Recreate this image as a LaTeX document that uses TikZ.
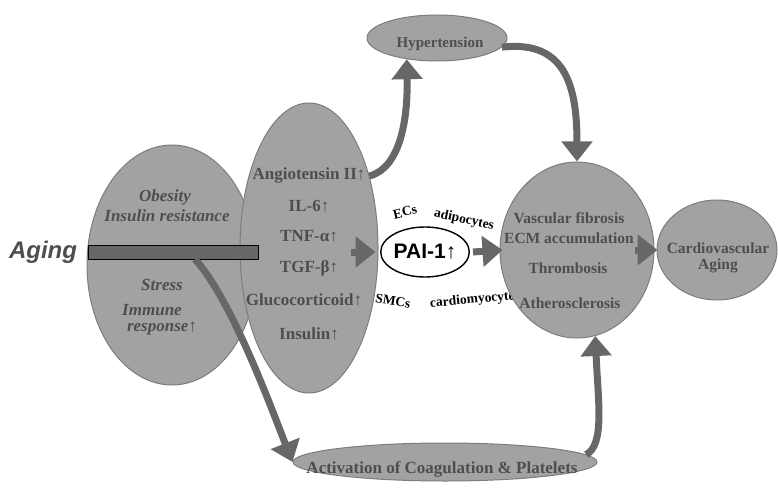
\documentclass[tikz,border=0pt]{standalone}
\usepackage{fontspec}
\setmainfont{Liberation Serif}
\setsansfont{Liberation Sans}
\usetikzlibrary{shapes.geometric,arrows.meta}
\definecolor{blobfill}{HTML}{A2A2A2}
\definecolor{blobline}{HTML}{7C7C7C}
\definecolor{arrowgray}{HTML}{676767}
\definecolor{txtgray}{HTML}{4E4E4E}
\begin{document}
\begin{tikzpicture}[x=1pt,y=-1pt,
  blob/.style={ellipse, fill=blobfill, draw=blobline, line width=1pt, inner sep=0pt},
  lbl/.style={font=\bfseries\fontsize{17}{18}\selectfont, text=txtgray, inner sep=0pt},
  rlbl/.style={font=\bfseries\fontsize{15.5}{16.5}\selectfont, text=txtgray, inner sep=0pt},
  ilbl/.style={font=\bfseries\itshape\fontsize{17}{18}\selectfont, text=txtgray, inner sep=0pt},
  cell/.style={font=\bfseries\fontsize{13.5}{14.5}\selectfont, text=black, inner sep=0pt},
  flow/.style={draw=arrowgray, line width=7pt, -{Triangle[length=20pt,width=30pt,fill=arrowgray]}}]
\useasboundingbox (0,0) rectangle (778,494);

% ellipses (left part)
\node[blob, minimum width=170pt, minimum height=240pt] (risk) at (172,265) {};
\node[blob, minimum width=138pt, minimum height=290pt] (mid) at (309,248) {};
\node[blob, minimum width=140pt, minimum height=46pt] (top) at (437,38) {};

% PAI-1 and cell types (partly hidden by the right circle)
\node[ellipse, draw=black, line width=1.4pt, fill=white, minimum width=86pt, minimum height=50pt, inner sep=0pt,
      font=\sffamily\bfseries\fontsize{21}{23}\selectfont] (pai) at (425,252) {PAI-1↑};
\node[cell, rotate=14] (ecs) at (405,212) {ECs};
\node[cell, rotate=-12] (adi) at (464,220) {adipocytes};
\node[cell, rotate=-10] (smc) at (393,301) {SMCs};
\node[cell, rotate=5] (card) at (475,300) {cardiomyocytes};

% ellipses (right part)
\node[blob, minimum width=154pt, minimum height=176pt] (circ) at (577,250) {};
\node[blob, minimum width=120pt, minimum height=100pt] (small) at (717,250) {};
\node[blob, minimum width=304pt, minimum height=38pt] (bottom) at (445,462) {};

% Aging and bar
\node[font=\sffamily\bfseries\itshape\fontsize{24}{26}\selectfont, text=txtgray, inner sep=0pt] (aging) at (43,252) {Aging};
\node[draw=black, fill=arrowgray, minimum width=170pt, minimum height=14pt, inner sep=0pt] (bar) at (173,252) {};

% left ellipse texts
\node[ilbl] (obes) at (165,197) {Obesity};
\node[ilbl] (insr) at (167,216) {Insulin resistance};
\node[ilbl] (stress) at (162,285) {Stress};
\node[ilbl] (immune) at (152,310) {Immune};
\node[ilbl] (resp) at (162,329) {response↑};

% middle ellipse texts
\node[lbl] (ang) at (309,175) {Angiotensin II↑};
\node[lbl] (il6) at (309,206) {IL-6↑};
\node[lbl] (tnf) at (309,236) {TNF-α↑};
\node[lbl] (tgf) at (309,268) {TGF-β↑};
\node[lbl] (gluc) at (304,300) {Glucocorticoid↑};
\node[lbl] (ins) at (309,334) {Insulin↑};

% other texts
\node[lbl, font=\bfseries\fontsize{15}{16}\selectfont] (hyp) at (440,44) {Hypertension};
\node[rlbl] (vf) at (569,218) {Vascular fibrosis};
\node[rlbl] (ecm) at (569,238) {ECM accumulation};
\node[rlbl] (thr) at (568,268) {Thrombosis};
\node[rlbl] (ath) at (570,303) {Atherosclerosis};
\node[rlbl, align=center] (cva) at (718,258) {Cardiovascular\\Aging};
\node[lbl] (act) at (442,469) {Activation of Coagulation \& Platelets};

% connectors
\draw[flow] ([xshift=22pt]bar.south) .. controls (232,300) and (272,410) .. (bottom.west);
\draw[flow] ([xshift=-28pt,yshift=-4pt]mid.east) -- ([xshift=-3pt,yshift=-4pt]mid.east);
\draw[flow] ([xshift=3pt]pai.east) -- ([xshift=3pt]circ.west);
\draw[flow] ([xshift=-20pt]circ.east) -- ([xshift=1pt]small.west);
\draw[flow] (mid.50) .. controls (400,168) and (408,120) .. (top.215);
\draw[flow] (top.-8) .. controls (565,40) and (577,85) .. (circ.north);
\draw[flow] (bottom.3) .. controls (605,445) and (598,400) .. (circ.-78);
\end{tikzpicture}
\end{document}
